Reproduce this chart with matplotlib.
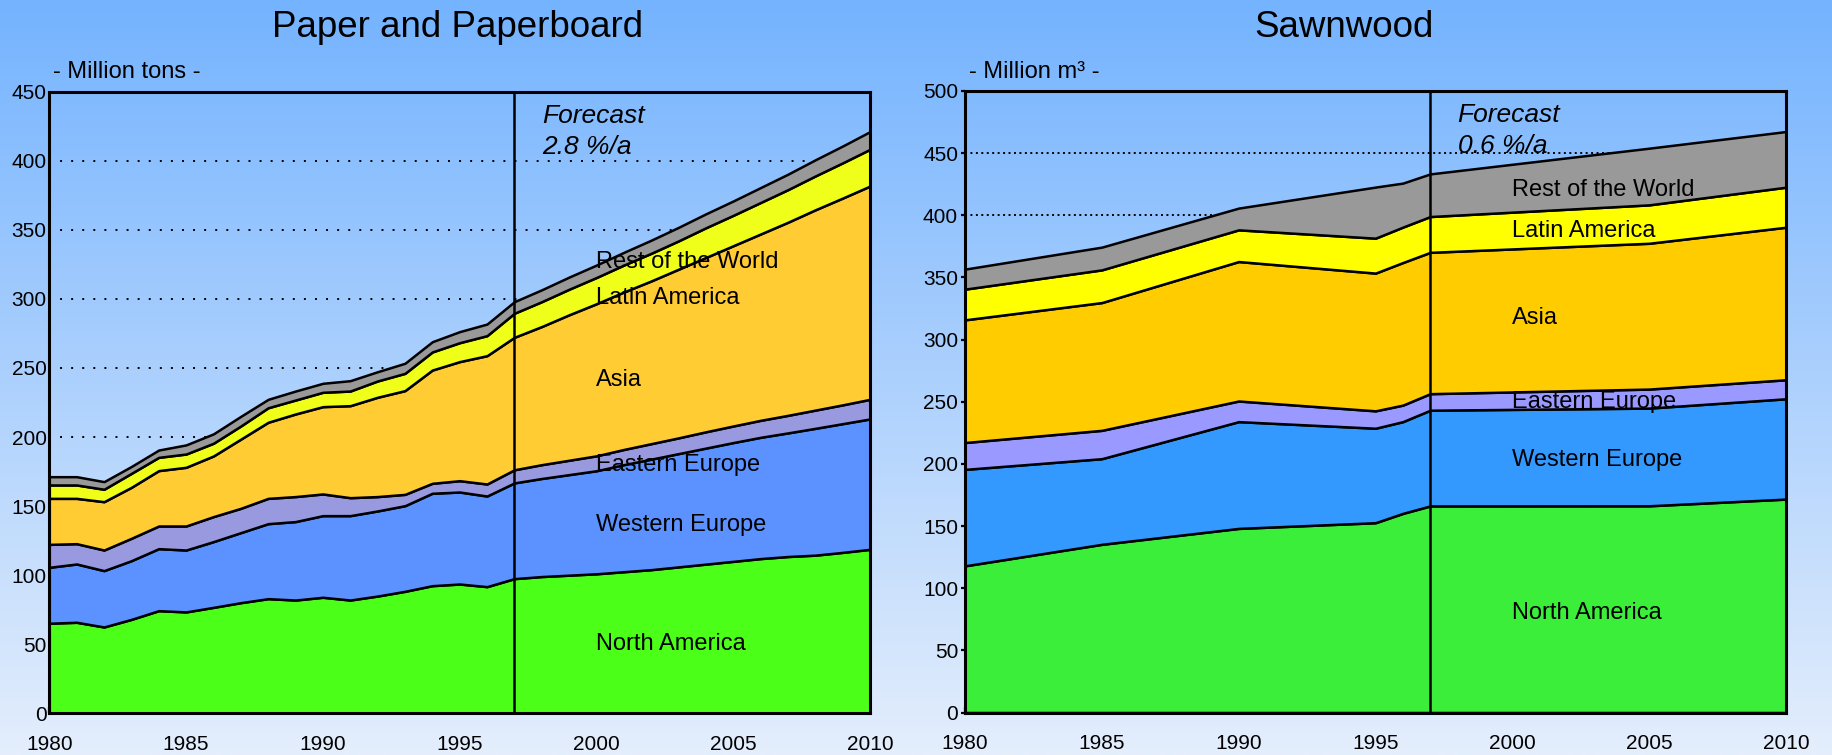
import numpy as np
import matplotlib.pyplot as plt
from matplotlib.colors import LinearSegmentedColormap

plt.rcParams['font.family'] = ['Liberation Sans', 'DejaVu Sans']

regions = ["North America", "Western Europe", "Eastern Europe",
           "Asia", "Latin America", "Rest of the World"]

# Paper and paperboard, million tons (history to 1997, forecast after)
paper_years = list(range(1980, 2011))
paper_na = [65.2, 65.9, 62.5, 68.0, 74.3, 73.4, 76.7, 80.1, 83.0, 82.0,
            84.0, 82.0, 84.9, 88.3, 92.4, 93.6, 91.7, 97.5, 99.0, 100.0,
            101.0, 102.5, 104.0, 106.0, 108.0, 110.0, 112.0, 113.5, 114.5,
            116.5, 118.7]
paper_we = [40.5, 42.2, 40.8, 42.5, 44.9, 44.8, 47.6, 50.7, 54.3, 56.8,
            59.1, 61.1, 61.6, 62.0, 66.9, 66.6, 65.6, 69.3, 71.0, 72.8,
            74.6, 77.5, 80.0, 82.0, 84.0, 86.0, 87.8, 89.5, 91.8, 93.2,
            94.4]
paper_ee = [16.6, 14.7, 14.9, 16.2, 16.4, 17.4, 18.1, 17.6, 18.3, 18.1,
            15.7, 13.0, 10.4, 8.2, 7.2, 8.2, 8.7, 9.5, 10.0, 10.4,
            10.8, 11.0, 11.2, 11.4, 11.8, 12.0, 12.3, 12.7, 13.2, 13.6,
            14.2]
paper_asia = [33.3, 32.8, 35.0, 36.9, 40.1, 42.5, 43.9, 50.1, 55.1, 59.8,
              63.2, 66.6, 71.9, 75.1, 82.0, 86.2, 92.9, 95.9, 100.0, 105.3,
              110.1, 114.0, 117.8, 122.1, 126.2, 130.5, 134.9, 139.8, 145.0,
              149.7, 154.4]
paper_la = [9.7, 9.7, 9.0, 10.1, 9.6, 9.6, 9.2, 9.5, 10.5, 10.1,
            10.4, 10.6, 11.8, 12.5, 13.1, 13.7, 14.5, 17.4, 18.0, 18.5,
            19.0, 19.5, 20.0, 20.5, 21.5, 22.0, 22.8, 23.6, 24.5, 25.5,
            26.6]
paper_row = [6.0, 6.0, 5.5, 5.0, 5.3, 6.6, 6.8, 7.0, 6.1, 6.5,
             6.5, 7.5, 6.7, 7.3, 7.4, 8.0, 8.4, 8.4, 8.6, 8.8,
             9.0, 9.2, 9.5, 9.8, 10.1, 10.4, 10.8, 11.2, 11.7, 12.2,
             12.8]

# Sawnwood, million m3
saw_years = [1980, 1985, 1990, 1995, 1996, 1997, 2005, 2010]
saw_na = [118.0, 135.3, 148.1, 152.7, 160.2, 166.2, 166.3, 171.7]
saw_we = [77.6, 68.9, 85.9, 76.0, 73.8, 77.0, 78.6, 80.7]
saw_ee = [21.6, 22.8, 16.6, 14.0, 13.3, 13.3, 15.3, 15.3]
saw_asia = [98.7, 102.8, 112.2, 110.8, 114.7, 113.7, 117.3, 122.7]
saw_la = [24.7, 26.3, 25.5, 28.1, 28.5, 28.8, 30.9, 32.2]
saw_row = [16.1, 18.3, 17.5, 41.1, 35.4, 34.3, 45.6, 44.8]

paper_colors = ["#4cff19", "#5c92ff", "#9999e0", "#ffcc33", "#f0ff1a", "#999999"]
saw_colors = ["#3aee3a", "#3399ff", "#9999ff", "#ffcc00", "#ffff00", "#999999"]

fig = plt.figure(figsize=(18.32, 7.55), dpi=100)

# sky-like background behind everything
bg = fig.add_axes([0, 0, 1, 1], zorder=-10)
cmap = LinearSegmentedColormap.from_list("sky", ["#e4eefc", "#74b3ff"])
bg.imshow(np.linspace(0, 1, 256).reshape(-1, 1), aspect='auto', cmap=cmap,
          origin='lower', extent=[0, 1, 0, 1])
bg.axis('off')


def panel(rect, years, series, colors, ymax, grid_dash, ytick_len,
          title, title_x, unit, rate, label_pos):
    ax = fig.add_axes(rect)
    ax.set_facecolor('none')
    ax.stackplot(years, *series, colors=colors, edgecolor='black',
                 linewidth=1.8, zorder=2)
    ax.axvline(1997, color='black', lw=1.8, zorder=4)
    ax.set_xlim(1980, 2010)
    ax.set_ylim(0, ymax)
    ax.set_xticks(range(1980, 2011, 5))
    ax.set_xticks(range(1980, 2011), minor=True)
    ax.set_yticks(range(0, ymax + 1, 50))
    ax.set_axisbelow(True)
    ax.yaxis.grid(True, color='black', lw=1.4, linestyle=(0, grid_dash))
    ax.tick_params(axis='x', which='both', direction='in', length=4,
                   width=1.6, labelsize=15, pad=15.5)
    ax.tick_params(axis='y', direction='out', length=ytick_len, width=1.6,
                   labelsize=15, pad=2)
    for sp in ax.spines.values():
        sp.set_linewidth(2.2)
        sp.set_zorder(5)
    for name, ly in zip(regions, label_pos):
        ax.text(2000, ly, name, fontsize=17, va='center', ha='left', zorder=3)
    ax.text(1998, 0.95 * ymax, "Forecast", fontsize=19, style='italic',
            va='baseline', zorder=6)
    ax.text(1998, 0.9 * ymax, rate, fontsize=19, style='italic',
            va='baseline', zorder=6)
    fig.text(title_x, 1 - 37 / 755, title, fontsize=26.5, ha='center',
             va='baseline')
    fig.text(rect[0] + 0.002, 1 - 78 / 755, unit, fontsize=17, ha='left',
             va='baseline')
    return ax


panel([49.3 / 1832, 1 - 713.3 / 755, 820.7 / 1832, 621.6 / 755],
      paper_years,
      [paper_na, paper_we, paper_ee, paper_asia, paper_la, paper_row],
      paper_colors, 450, (1, 4.7), 0,
      "Paper and Paperboard", 458 / 1832, "- Million tons -", "2.8 %/a",
      [50, 136, 180, 241, 301, 327])

panel([965 / 1832, 1 - 712.5 / 755, 821 / 1832, 621.5 / 755],
      saw_years,
      [saw_na, saw_we, saw_ee, saw_asia, saw_la, saw_row],
      saw_colors, 500, (1, 1.8), 3,
      "Sawnwood", 1344 / 1832, "- Million m³ -", "0.6 %/a",
      [80, 203, 250, 317, 387, 420])

fig.savefig("out.png", dpi=100)
